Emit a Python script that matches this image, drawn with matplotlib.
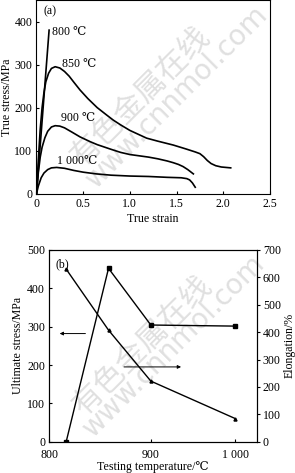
import numpy as np
import matplotlib
matplotlib.use('Agg')
import matplotlib.pyplot as plt

plt.rcParams['font.family'] = ['Liberation Serif', 'DejaVu Serif', 'Noto Sans CJK SC']
plt.rcParams['font.size'] = 8.6
plt.rcParams['axes.linewidth'] = 0.8

# (a) true stress - true strain curves
strain_800 = [0.0, 0.135]
stress_800 = [0, 380]

strain_850 = [0.0, 0.02, 0.04, 0.06, 0.08, 0.10, 0.13, 0.16, 0.20, 0.25, 0.30, 0.35, 0.40,
              0.466, 0.55, 0.65, 0.75, 0.822, 0.90, 1.0, 1.1, 1.18, 1.3, 1.465, 1.6, 1.7,
              1.75, 1.79, 1.83, 1.87, 1.92, 1.98, 2.08]
stress_850 = [0, 80, 150, 200, 235, 260, 280, 291, 295, 292, 284, 273, 259,
              241, 221, 200, 183, 171, 160, 147, 137, 129, 122, 113, 104, 97,
              93, 86, 77, 70, 65, 62, 60]

strain_900 = [0.0, 0.02, 0.04, 0.06, 0.09, 0.12, 0.16, 0.20, 0.25, 0.30, 0.38, 0.466, 0.573,
              0.65, 0.8, 0.9, 1.0, 1.1, 1.2, 1.3, 1.4, 1.465, 1.52, 1.57, 1.62, 1.68]
stress_900 = [0, 50, 85, 108, 130, 145, 155, 158, 157, 153, 143, 132, 121,
              114, 103, 96, 91, 88, 85, 81, 76, 72, 68, 63, 56, 46]

strain_1000 = [0.0, 0.02, 0.05, 0.08, 0.12, 0.16, 0.216, 0.3, 0.4, 0.5, 0.64, 0.8, 1.0,
               1.2, 1.4, 1.55, 1.61, 1.64, 1.67, 1.70]
stress_1000 = [0, 18, 37, 48, 56, 60, 61, 59, 54, 50, 46, 43, 41,
               40, 38, 37, 35, 32, 25, 15]

# (b) ultimate stress and elongation vs temperature
temps = [800, 850, 900, 1000]
ult_stress = [450, 291, 158, 60]
elongation = [0, 633, 426, 422]

fig = plt.figure(figsize=(2.95, 4.73), dpi=100)

ax1 = fig.add_axes([0.1237, 0.5905, 0.7913, 0.4095])
for x, y in [(strain_800, stress_800), (strain_850, stress_850),
             (strain_900, stress_900), (strain_1000, stress_1000)]:
    ax1.plot(x, y, color='black', lw=1.2, solid_joinstyle='round')
ax1.set_xlim(0, 2.5)
ax1.set_ylim(0, 450)
ax1.set_xticks([0, 0.5, 1.0, 1.5, 2.0, 2.5])
ax1.set_xticklabels(['0', '0.5', '1.0', '1.5', '2.0', '2.5'])
ax1.set_yticks([0, 100, 200, 300, 400])
ax1.tick_params(direction='in', length=2.5, pad=3)
ax1.set_xlabel('True strain', labelpad=2)
ax1.set_ylabel('True stress/MPa', labelpad=1)
ax1.text(0.03, 0.975, '(a)', transform=ax1.transAxes, va='top', ha='left')
ax1.text(0.17, 375, '800 \u2103', va='center', ha='left')
ax1.text(0.27, 302, '850 \u2103', va='center', ha='left')
ax1.text(0.26, 175, '900 \u2103', va='center', ha='left')
ax1.text(0.22, 77, '1 000\u2103', va='center', ha='left')

ax2 = fig.add_axes([0.167, 0.0662, 0.703, 0.4053])
ax2.plot(temps, ult_stress, color='black', lw=1.0, marker='^', ms=2.2)
ax2.set_xlim(780, 1025)
ax2.set_ylim(0, 500)
ax2.set_xticks([780, 900, 1000])
ax2.set_xticklabels(['800', '900', '1 000'])
ax2.set_yticks([0, 100, 200, 300, 400, 500])
ax2.tick_params(direction='in', length=2.5, pad=3)
ax2.tick_params(axis='x', pad=5.5)
ax2.set_xlabel('Testing temperature/\u2103', labelpad=0)
ax2.set_ylabel('Ultimate stress/MPa', labelpad=2)
ax2.text(0.03, 0.955, '(b)', transform=ax2.transAxes, va='top', ha='left')

ax3 = ax2.twinx()
ax3.plot(temps, elongation, color='black', lw=1.0, marker='s', ms=3.5)
ax3.set_ylim(0, 700)
ax3.set_yticks([0, 100, 200, 300, 400, 500, 600, 700])
ax3.tick_params(direction='out', length=2.5, pad=2)
ax3.set_ylabel('Elongation/%', labelpad=2)

ax2.annotate('', xy=(789, 282), xytext=(826, 282),
             arrowprops=dict(arrowstyle='-|>', color='black', lw=0.7, mutation_scale=5))
ax2.annotate('', xy=(939, 195), xytext=(865, 195),
             arrowprops=dict(arrowstyle='-|>', color='black', lw=0.7, mutation_scale=5))

# watermark
for ax in (ax1, ax2):
    ax.text(0.45, 0.5, '有色金属在线', transform=ax.transAxes, rotation=45,
            fontsize=22, color='#e0e0e0', ha='center', va='center',
            family=['Noto Sans CJK SC'], zorder=0)
    ax.text(0.6, 0.5, 'www.cnnmol.com', transform=ax.transAxes, rotation=45,
            fontsize=20, color='#e0e0e0', ha='center', va='center',
            family=['DejaVu Sans'], zorder=0)

fig.savefig('out.png', dpi=100)
